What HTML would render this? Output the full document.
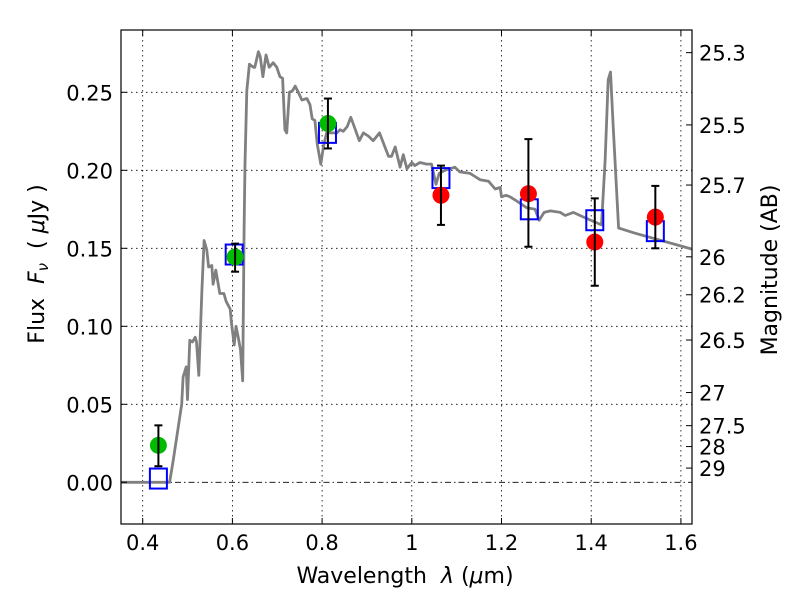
<!DOCTYPE html>
<html><head><meta charset="utf-8"><style>
html,body{margin:0;padding:0;background:#fff;}
svg text{font-family:"DejaVu Sans","Liberation Sans",sans-serif;fill:#000;}
</style></head><body>
<svg id="chart" width="800" height="600" xmlns="http://www.w3.org/2000/svg">
<rect width="800" height="600" fill="#fff"/>
<g id="grid"></g>
<g id="spec"></g>
<g id="marks"></g>
<rect x="121" y="30" width="571" height="494" fill="none" stroke="#000" stroke-width="1.2"/>
<g id="ticks"></g>
<text x="405" y="583" font-size="22" text-anchor="middle" xml:space="preserve">Wavelength  <tspan font-style="italic">λ</tspan> (<tspan font-style="italic">μ</tspan>m)</text>
<text transform="translate(44,264) rotate(-90)" font-size="22" text-anchor="middle" xml:space="preserve">Flux  <tspan font-style="italic">F</tspan><tspan font-style="italic" font-size="15" dy="4">ν</tspan><tspan dy="-4">  ( </tspan><tspan font-style="italic">μ</tspan>Jy )</text>
<text transform="translate(777,270) rotate(-90)" font-size="22" text-anchor="middle">Magnitude (AB)</text>
</svg>
<script>
const specLam=[0.352,0.46,0.468,0.487,0.49,0.497,0.5,0.505,0.511,0.517,0.52,0.525,0.532,0.537,0.543,0.547,0.554,0.557,0.563,0.572,0.581,0.586,0.595,0.598,0.604,0.608,0.613,0.618,0.623,0.626,0.628,0.632,0.638,0.647,0.65,0.658,0.662,0.668,0.675,0.682,0.691,0.699,0.706,0.712,0.717,0.721,0.727,0.734,0.74,0.747,0.755,0.766,0.773,0.778,0.784,0.789,0.797,0.803,0.81,0.833,0.84,0.847,0.856,0.864,0.873,0.883,0.892,0.903,0.914,0.928,0.936,0.948,0.955,0.963,0.974,0.981,0.989,1.0,1.007,1.018,1.033,1.044,1.054,1.061,1.074,1.085,1.096,1.107,1.13,1.141,1.152,1.171,1.186,1.197,1.2,1.21,1.219,1.23,1.256,1.275,1.284,1.295,1.309,1.331,1.342,1.36,1.383,1.423,1.431,1.438,1.443,1.449,1.461,1.472,1.494,1.625];
const specFlux=[0,0,0.014,0.05,0.0675,0.074,0.053,0.091,0.09,0.093,0.09,0.0686,0.123,0.155,0.149,0.138,0.139,0.127,0.136,0.121,0.121,0.116,0.111,0.102,0.088,0.1,0.093,0.085,0.065,0.162,0.204,0.251,0.268,0.266,0.266,0.276,0.273,0.26,0.274,0.266,0.269,0.266,0.26,0.259,0.226,0.224,0.25,0.251,0.254,0.25,0.245,0.246,0.242,0.233,0.232,0.217,0.204,0.215,0.224,0.224,0.226,0.225,0.228,0.234,0.227,0.219,0.224,0.222,0.219,0.224,0.218,0.209,0.209,0.215,0.202,0.21,0.201,0.205,0.203,0.205,0.204,0.204,0.191,0.198,0.2,0.201,0.202,0.199,0.198,0.196,0.194,0.193,0.188,0.189,0.183,0.184,0.183,0.181,0.176,0.175,0.168,0.173,0.174,0.173,0.171,0.173,0.17,0.165,0.206,0.258,0.263,0.228,0.163,0.162,0.16,0.1495];
const greenLam=[0.435,0.606,0.813];
const greenFlux=[0.0237,0.1444,0.230];
const greenHi=[0.0365,0.153,0.246];
const greenLo=[0.0103,0.135,0.214];
const redLam=[1.065,1.26,1.408,1.543];
const redFlux=[0.184,0.185,0.154,0.170];
const redHi=[0.203,0.22,0.182,0.19];
const redLo=[0.165,0.151,0.126,0.150];
const modelLam=[0.435,0.604,0.812,1.065,1.262,1.408,1.543];
const modelFlux=[0.0024,0.146,0.224,0.195,0.175,0.168,0.161];
const xTicks=[0.4,0.6,0.8,1.0,1.2,1.4,1.6];
const xTickLabels=["0.4","0.6","0.8","1","1.2","1.4","1.6"];
const yTicks=[0,0.05,0.1,0.15,0.2,0.25];
const yTickLabels=["0.00","0.05","0.10","0.15","0.20","0.25"];
const magTicks=[25.3,25.5,25.7,26,26.2,26.5,27,27.5,28,29];
const magTickLabels=["25.3","25.5","25.7","26","26.2","26.5","27","27.5","28","29"];

const NS="http://www.w3.org/2000/svg";
const X=l=>142.7+(l-0.4)*448.5;
const Y=f=>482.3-f*1560;
function mk(tag,attrs,parent){const e=document.createElementNS(NS,tag);for(const k in attrs)e.setAttribute(k,attrs[k]);parent.appendChild(e);return e;}
const grid=document.getElementById('grid'),ticks=document.getElementById('ticks'),spec=document.getElementById('spec'),marks=document.getElementById('marks');

xTicks.forEach((t,i)=>{
  const g=mk('line',{x1:X(t),x2:X(t),y1:30,y2:524,stroke:'#000','stroke-width':0.8,'stroke-dasharray':'1.5,3.5'},grid);
  
  
  mk('line',{x1:X(t),x2:X(t),y1:524,y2:518,stroke:'#000','stroke-width':1},ticks);
  mk('line',{x1:X(t),x2:X(t),y1:30,y2:36,stroke:'#000','stroke-width':1},ticks);
  const tx=mk('text',{x:X(t),y:550,'font-size':21,'text-anchor':'middle'},ticks);
  tx.textContent=xTickLabels[i];
  
  
});
yTicks.forEach((t,i)=>{
  if(t!==0){
    const g=mk('line',{x1:121,x2:692,y1:Y(t),y2:Y(t),stroke:'#000','stroke-width':0.8,'stroke-dasharray':'1.5,3.5'},grid);
    
    
  }
  mk('line',{x1:121,x2:127,y1:Y(t),y2:Y(t),stroke:'#000','stroke-width':1},ticks);
  const tx=mk('text',{x:113,y:Y(t)+8,'font-size':21,'text-anchor':'end'},ticks);
  tx.textContent=yTickLabels[i];
  
  
});
const zl=mk('line',{x1:121,x2:692,y1:Y(0),y2:Y(0),stroke:'#000','stroke-width':0.8,'stroke-dasharray':'6,3,1.5,3'},grid);


magTicks.forEach((m,i)=>{
  const f=Math.pow(10,(23.9-m)/2.5);
  mk('line',{x1:686,x2:692,y1:Y(f),y2:Y(f),stroke:'#000','stroke-width':1},ticks);
  const tx=mk('text',{x:699,y:Y(f)+8,'font-size':21},ticks);
  tx.textContent=magTickLabels[i];
  
  
});
const pts=specLam.map((l,i)=>X(l).toFixed(1)+','+Y(specFlux[i]).toFixed(1)).join(' ');
const pl=mk('polyline',{points:pts,fill:'none',stroke:'#808080','stroke-width':2.8,'stroke-linejoin':'round'},spec);



function errbar(l,hi,lo){
  const x=X(l);
  mk('line',{x1:x,x2:x,y1:Y(hi),y2:Y(lo),stroke:'#000','stroke-width':2},marks);
  mk('line',{x1:x-4,x2:x+4,y1:Y(hi),y2:Y(hi),stroke:'#000','stroke-width':2},marks);
  mk('line',{x1:x-4,x2:x+4,y1:Y(lo),y2:Y(lo),stroke:'#000','stroke-width':2},marks);
}
modelLam.forEach((l,i)=>{
  const r=mk('rect',{x:X(l)-8.5,y:Y(modelFlux[i])-10,width:17,height:20,fill:'none',stroke:'#0000ff','stroke-width':2},marks);
  
  
});
greenLam.forEach((l,i)=>{
  const c=mk('circle',{cx:X(l),cy:Y(greenFlux[i]),r:8.5,fill:'#00bb00'},marks);
  
  
  errbar(l,greenHi[i],greenLo[i]);
});
redLam.forEach((l,i)=>{
  const c=mk('circle',{cx:X(l),cy:Y(redFlux[i]),r:8.5,fill:'#ff0000'},marks);
  
  
  errbar(l,redHi[i],redLo[i]);
});
</script>
</body></html>
